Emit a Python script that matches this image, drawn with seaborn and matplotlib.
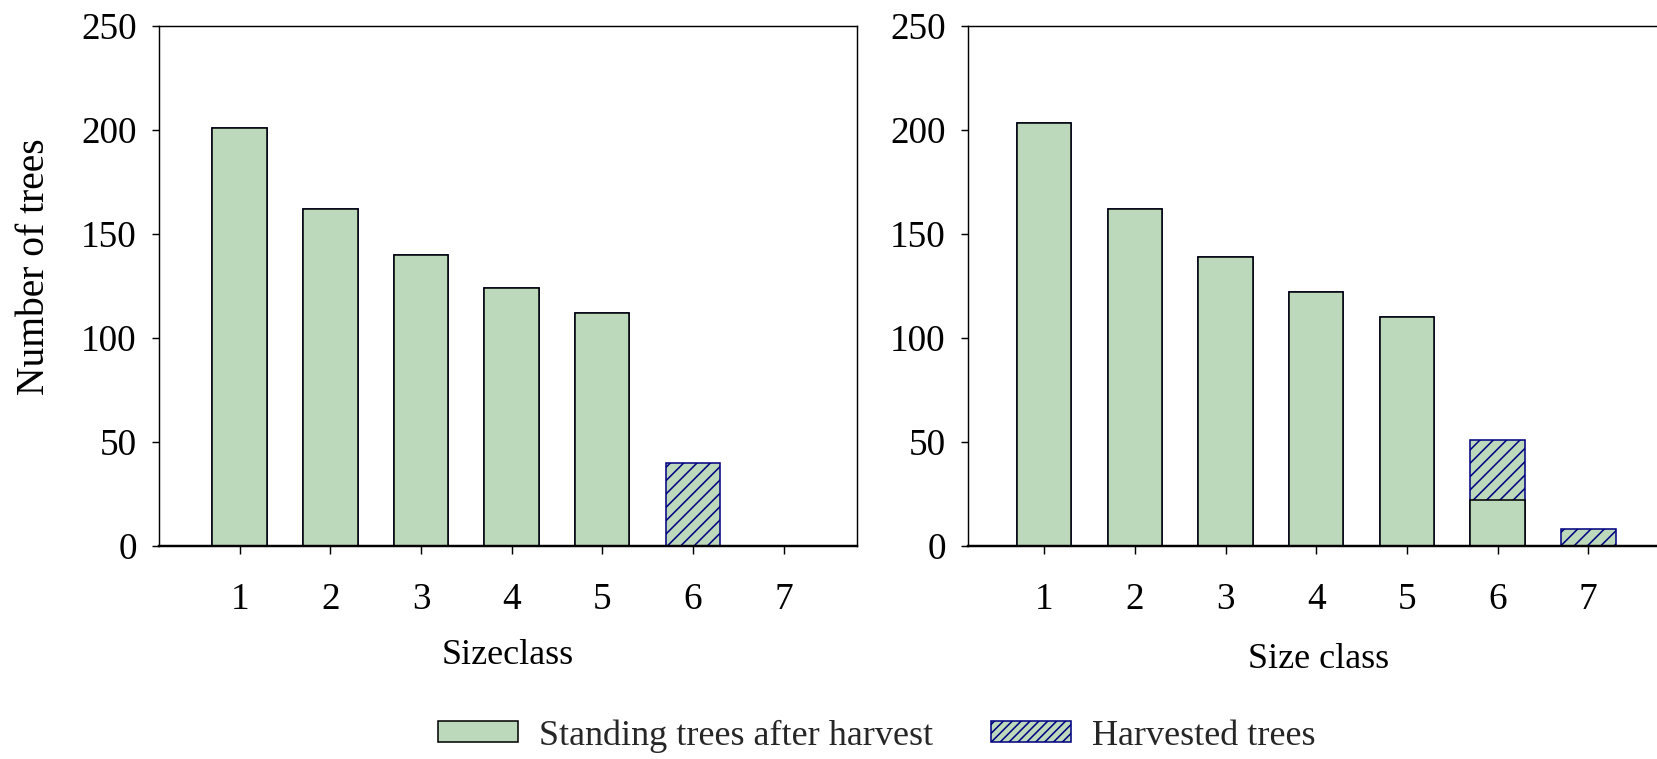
import matplotlib
matplotlib.use("Agg")
import matplotlib.pyplot as plt
from matplotlib.patches import Patch
import numpy as np
import pandas as pd
import seaborn as sns

# Tree counts per size class, before (left) and after (right) treatment
size_classes = [1, 2, 3, 4, 5, 6, 7]
standing_left = [201, 162, 140, 124, 112, 0, 0]
harvested_left = [0, 0, 0, 0, 0, 40, 0]
standing_right = [203, 162, 139, 122, 110, 22, 0]
harvested_right = [0, 0, 0, 0, 0, 29, 8]

y_ticks = [0, 50, 100, 150, 200, 250]
xlabel_left = "Sizeclass"
xlabel_right = "Size class"
ylabel = "Number of trees"
legend_labels = ["Standing trees after harvest", "Harvested trees"]

GREEN = "#bcd9bb"
NAVY = "#000080"
FS_TICK = 33.5
FS_XLAB = 32.5
FS_YLAB = 35.5
FS_LEG = 32.5

sns.set_theme(style="white")
plt.rcParams["font.family"] = ["Liberation Serif", "DejaVu Serif"]
plt.rcParams["hatch.linewidth"] = 1.4
plt.rcParams["hatch.color"] = NAVY

DPI = 80
W, H = 1657, 759
fig = plt.figure(figsize=(W / DPI, H / DPI), dpi=DPI)
fig.patch.set_facecolor("white")


def px_axes(x0, x1, y_top, y_bot):
    return fig.add_axes([x0 / W, 1 - y_bot / H, (x1 - x0) / W, (y_bot - y_top) / H])


ax_l = px_axes(159, 857, 25.7, 545.7)
ax_r = px_axes(968, 1670, 25.7, 545.7)


def draw_panel(ax, standing, harvested, xlim, xlabel, lab_y):
    df = pd.DataFrame({
        "size": [str(s) for s in size_classes],
        "standing": standing,
        "total": np.array(standing) + np.array(harvested),
    })
    order = [str(s) for s in size_classes]
    # harvested trees stacked on top of standing: draw totals first, then standing over them
    sns.barplot(data=df, x="size", y="total", order=order, ax=ax, width=0.6,
                color=GREEN, saturation=1, edgecolor=NAVY, linewidth=1.4,
                hatch="//", zorder=1)
    sns.barplot(data=df, x="size", y="standing", order=order, ax=ax, width=0.6,
                color=GREEN, saturation=1, edgecolor="black", linewidth=1.4,
                zorder=2)
    ax.set_xlim(*xlim)
    ax.set_ylim(0, 250)
    ax.set_yticks(y_ticks)
    ax.set_yticklabels([str(v) for v in y_ticks])
    ax.tick_params(axis="x", direction="out", length=7, width=1.3, color="black",
                   labelsize=FS_TICK, pad=26, labelcolor="black", bottom=True)
    ax.tick_params(axis="y", direction="out", length=6, width=1.3, color="black",
                   labelsize=FS_TICK, pad=14, labelcolor="black", left=True)
    ax.set_xlabel(xlabel, fontsize=FS_XLAB, color="black")
    ax.xaxis.set_label_coords(0.5, lab_y)
    ax.set_ylabel("")
    for sp in ax.spines.values():
        sp.set_visible(True)
        sp.set_color("black")
        sp.set_linewidth(1.3)
    ax.spines["bottom"].set_linewidth(2.2)
    ax.grid(False)
    ax.set_facecolor("white")


draw_panel(ax_l, standing_left, harvested_left, (-0.89, 6.81), xlabel_left, -0.180)
draw_panel(ax_r, standing_right, harvested_right, (-0.84, 6.90), xlabel_right, -0.187)

ax_l.set_ylabel(ylabel, fontsize=FS_YLAB, color="black")
ax_l.yaxis.set_label_coords(-0.152, 0.536)

handles = [
    Patch(facecolor=GREEN, edgecolor="black", linewidth=1.4),
    Patch(facecolor=GREEN, edgecolor=NAVY, linewidth=1.4, hatch="///"),
]
fig.legend(handles, legend_labels, loc="center", bbox_to_anchor=(877 / W, 1 - 736 / H),
           ncol=2, frameon=False, fontsize=FS_LEG, handlelength=2.2, handleheight=0.52,
           handletextpad=0.6, columnspacing=1.6, borderaxespad=0, borderpad=0)

fig.savefig("out.png", dpi=DPI, facecolor="white")
